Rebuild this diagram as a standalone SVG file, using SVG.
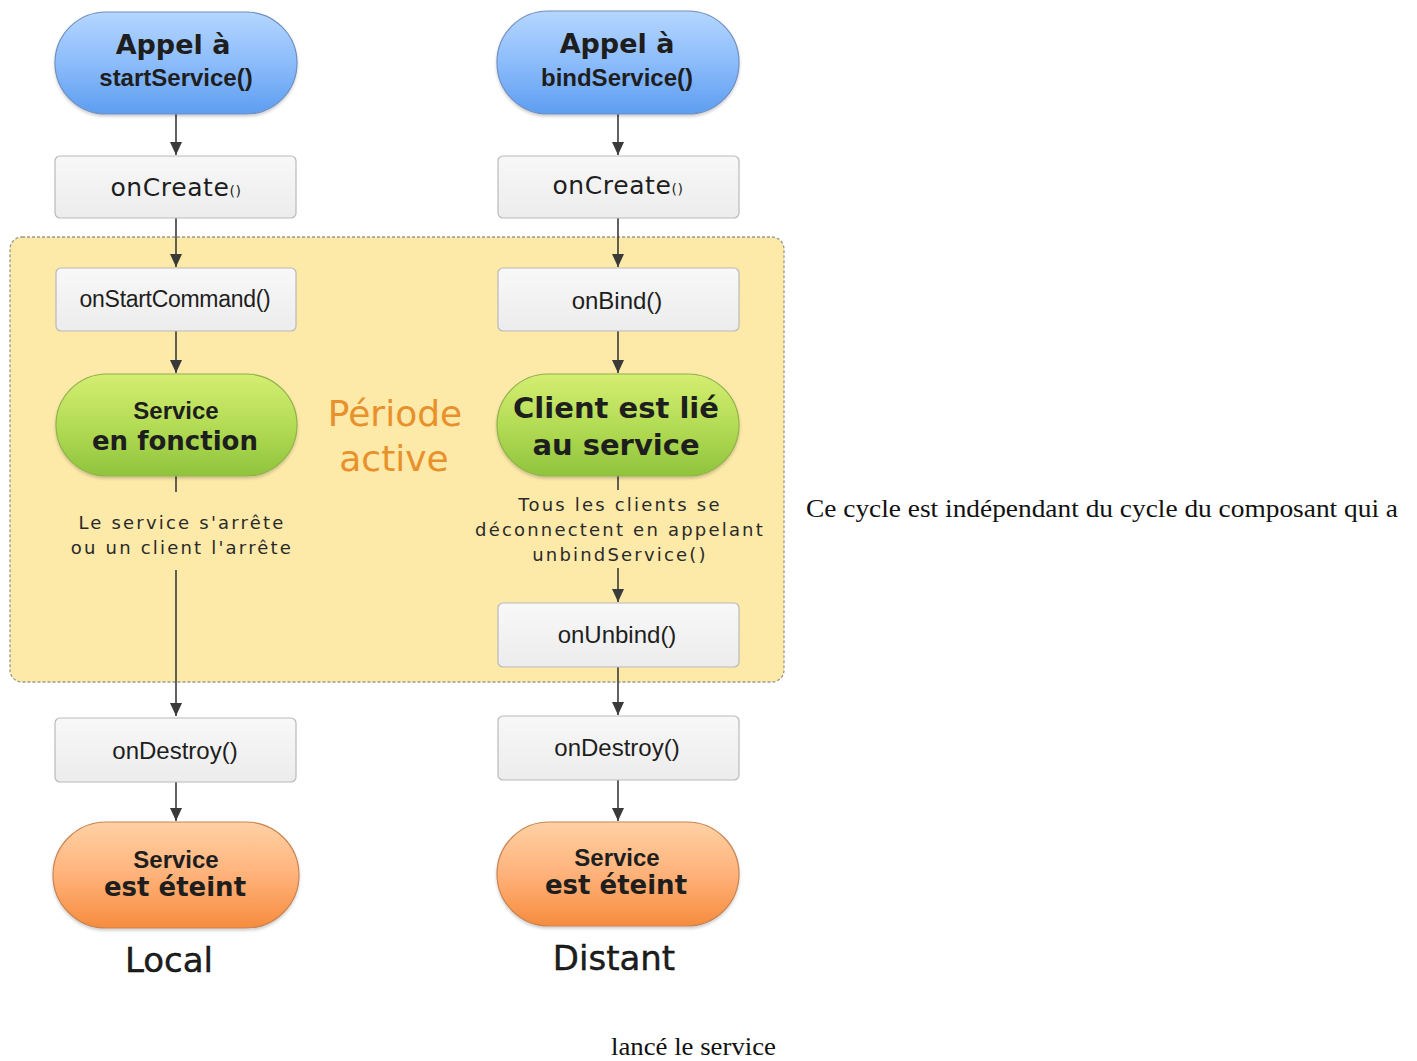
<svg xmlns="http://www.w3.org/2000/svg" width="1417" height="1061" viewBox="0 0 1417 1061">
<style>
.dv{font-family:"DejaVu Sans",sans-serif;fill:#1e1e1e;text-anchor:middle}
.hv{font-family:"Liberation Sans",Arial,sans-serif;fill:#1e1e1e;text-anchor:middle}
.b{font-weight:bold}
.box{fill:url(#gGray);stroke:#b9b9b9;stroke-width:1.2}
.blue{fill:url(#gBlue);stroke:#6f8fc0;stroke-width:1.2}
.green{fill:url(#gGreen);stroke:#8fb24a;stroke-width:1.2}
.orange{fill:url(#gOrange);stroke:#c98453;stroke-width:1.2}
.desc{font-family:"DejaVu Sans",sans-serif;font-size:18px;letter-spacing:2.2px;fill:#2a2a2a;text-anchor:middle}
.con{stroke:#3a3a3a;stroke-width:1.6;fill:none}
.arr{marker-end:url(#ah)}
.ser{font-family:"Liberation Serif","Times New Roman",serif;font-size:26px;fill:#111}
</style>
<defs>
<linearGradient id="gGray" x1="0" y1="0" x2="0" y2="1"><stop offset="0" stop-color="#f8f8f8"/><stop offset="1" stop-color="#ececec"/></linearGradient>
<linearGradient id="gBlue" x1="0" y1="0" x2="0" y2="1"><stop offset="0" stop-color="#b5d6ff"/><stop offset="0.5" stop-color="#8cbcfb"/><stop offset="1" stop-color="#5d9df0"/></linearGradient>
<linearGradient id="gGreen" x1="0" y1="0" x2="0" y2="1"><stop offset="0" stop-color="#d4ee72"/><stop offset="0.5" stop-color="#b4dc55"/><stop offset="1" stop-color="#8fc43c"/></linearGradient>
<linearGradient id="gOrange" x1="0" y1="0" x2="0" y2="1"><stop offset="0" stop-color="#ffd1a4"/><stop offset="0.5" stop-color="#ffb27a"/><stop offset="1" stop-color="#f68c3e"/></linearGradient>
<filter id="sh" x="-10%" y="-10%" width="120%" height="130%"><feDropShadow dx="0" dy="2" stdDeviation="1.5" flood-color="#000" flood-opacity="0.2"/></filter>
<marker id="ah" viewBox="0 0 13 12" refX="13" refY="6" markerWidth="13" markerHeight="12" markerUnits="userSpaceOnUse" orient="auto"><path d="M0,0 L13,6 L0,12 Z" fill="#3a3a3a"/></marker>
</defs>
<rect width="1417" height="1061" fill="#ffffff"/>

<g id="active-period">
<rect x="10" y="237" width="774" height="445" rx="12" fill="#fde9a8" stroke="#9a9a8a" stroke-width="1.3" stroke-dasharray="3,2"/>
<text x="395" y="426" font-family="DejaVu Sans,sans-serif" font-size="36" fill="#e8912c" text-anchor="middle">Période</text>
<text x="394" y="471" font-family="DejaVu Sans,sans-serif" font-size="36" fill="#e8912c" text-anchor="middle">active</text>
</g>

<g id="connectors">
<line class="con arr" x1="176" y1="114" x2="176" y2="155"/>
<line class="con arr" x1="176" y1="218" x2="176" y2="267"/>
<line class="con arr" x1="176" y1="331" x2="176" y2="373"/>
<line class="con" x1="176" y1="476" x2="176" y2="492"/>
<line class="con arr" x1="176" y1="570" x2="176" y2="716"/>
<line class="con arr" x1="176" y1="782" x2="176" y2="821"/>
<line class="con arr" x1="618" y1="114" x2="618" y2="155"/>
<line class="con arr" x1="618" y1="218" x2="618" y2="267"/>
<line class="con arr" x1="618" y1="331" x2="618" y2="373"/>
<line class="con" x1="618" y1="476" x2="618" y2="490"/>
<line class="con arr" x1="618" y1="568" x2="618" y2="602"/>
<line class="con arr" x1="618" y1="667" x2="618" y2="715"/>
<line class="con arr" x1="618" y1="780" x2="618" y2="821"/>
</g>

<g id="start-call">
<rect class="blue" x="55" y="12" width="242" height="102" rx="51" filter="url(#sh)"/>
<text class="dv b" x="173" y="54" font-size="27">Appel à</text>
<text class="hv b" x="176" y="86" font-size="24">startService()</text>
</g>
<g id="bind-call">
<rect class="blue" x="497" y="11" width="242" height="103" rx="51" filter="url(#sh)"/>
<text class="dv b" x="617" y="53" font-size="27">Appel à</text>
<text class="hv b" x="617" y="86" font-size="24">bindService()</text>
</g>

<g id="oncreate-left">
<rect class="box" x="55" y="156" width="241" height="62" rx="5"/>
<text class="dv" x="176" y="196" font-size="25" letter-spacing="0.6">onCreate<tspan font-size="14">()</tspan></text>
</g>
<g id="oncreate-right">
<rect class="box" x="498" y="156" width="241" height="62" rx="5"/>
<text class="dv" x="618" y="194" font-size="25" letter-spacing="0.6">onCreate<tspan font-size="14">()</tspan></text>
</g>

<g id="onstartcommand">
<rect class="box" x="56" y="268" width="240" height="63" rx="5"/>
<text class="hv" x="175" y="307" font-size="23" letter-spacing="-0.3">onStartCommand()</text>
</g>
<g id="onbind">
<rect class="box" x="498" y="268" width="241" height="63" rx="5"/>
<text class="hv" x="617" y="309" font-size="24">onBind()</text>
</g>

<g id="running">
<rect class="green" x="56" y="374" width="241" height="102" rx="51" filter="url(#sh)"/>
<text class="hv b" x="176" y="419" font-size="24">Service</text>
<text class="dv b" x="175" y="450" font-size="26">en fonction</text>
</g>
<g id="bound">
<rect class="green" x="497" y="374" width="242" height="102" rx="51" filter="url(#sh)"/>
<text class="dv b" x="616" y="418" font-size="29">Client est lié</text>
<text class="dv b" x="616" y="455" font-size="29">au service</text>
</g>

<g id="stop-label">
<text class="desc" x="182" y="529">Le service s'arrête</text>
<text class="desc" x="182" y="554">ou un client l'arrête</text>
</g>
<g id="unbind-label">
<text class="desc" x="620" y="511">Tous les clients se</text>
<text class="desc" x="620" y="536">déconnectent en appelant</text>
<text class="desc" x="620" y="561">unbindService()</text>
</g>

<g id="onunbind">
<rect class="box" x="498" y="603" width="241" height="64" rx="5"/>
<text class="hv" x="617" y="643" font-size="24">onUnbind()</text>
</g>

<g id="ondestroy-left">
<rect class="box" x="55" y="718" width="241" height="64" rx="5"/>
<text class="hv" x="175" y="759" font-size="24">onDestroy()</text>
</g>
<g id="ondestroy-right">
<rect class="box" x="498" y="716" width="241" height="64" rx="5"/>
<text class="hv" x="617" y="756" font-size="24">onDestroy()</text>
</g>

<g id="off-left">
<rect class="orange" x="53" y="822" width="246" height="106" rx="53" filter="url(#sh)"/>
<text class="hv b" x="176" y="868" font-size="24">Service</text>
<text class="dv b" x="175" y="896" font-size="26">est éteint</text>
</g>
<g id="off-right">
<rect class="orange" x="497" y="822" width="242" height="104" rx="52" filter="url(#sh)"/>
<text class="hv b" x="617" y="866" font-size="24">Service</text>
<text class="dv b" x="616" y="894" font-size="26">est éteint</text>
</g>

<g id="labels">
<text class="dv" x="169" y="972" font-size="34" fill="#000" stroke="#000" stroke-width="0.4">Local</text>
<text class="dv" x="614" y="970" font-size="34" fill="#000" stroke="#000" stroke-width="0.4">Distant</text>
<text class="ser" x="806" y="517" textLength="592" lengthAdjust="spacingAndGlyphs">Ce cycle est indépendant du cycle du composant qui a</text>
<text class="ser" x="611" y="1055" textLength="165" lengthAdjust="spacingAndGlyphs">lancé le service</text>
</g>
</svg>
